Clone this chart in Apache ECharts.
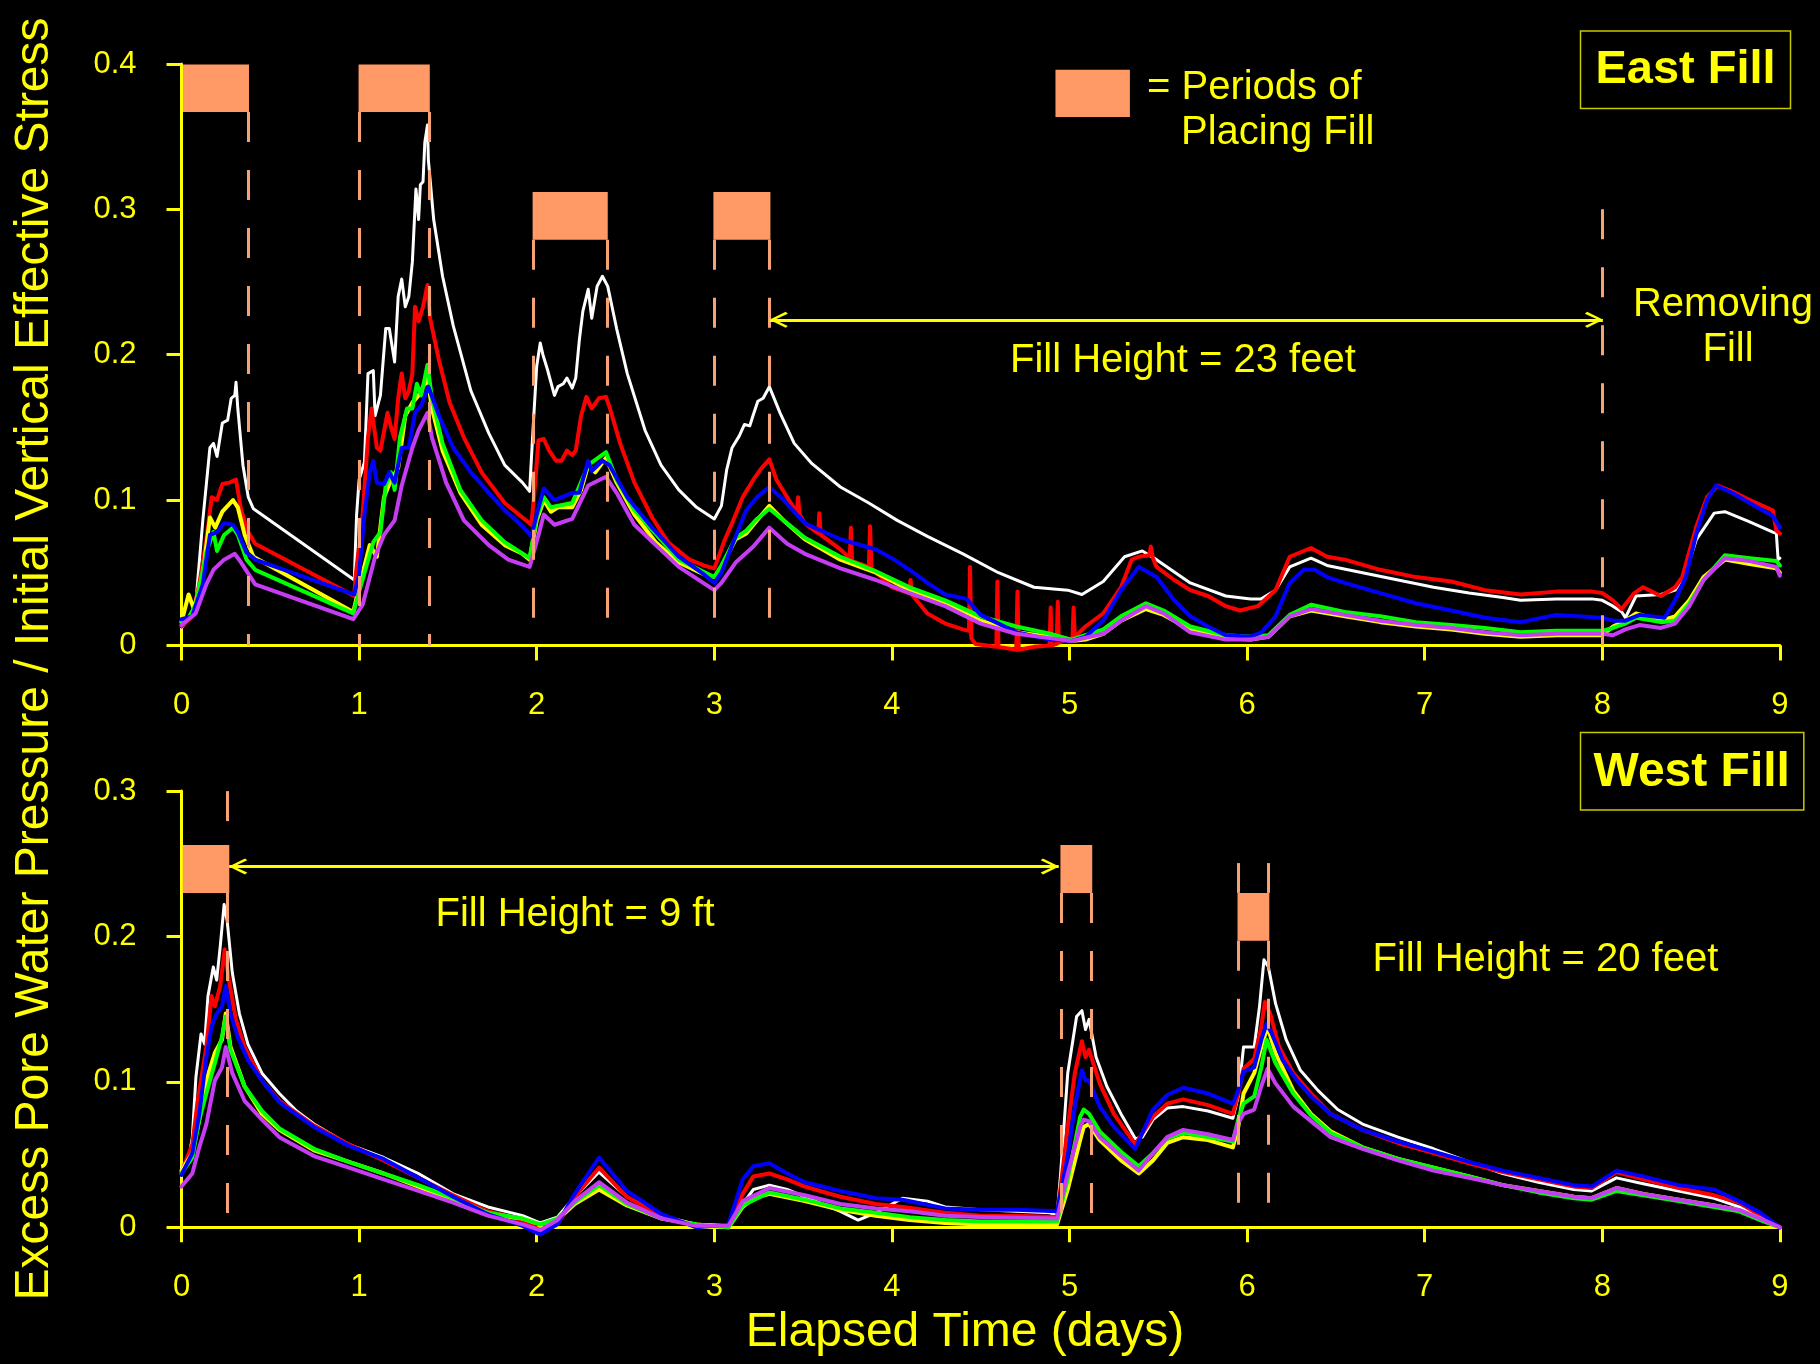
<!DOCTYPE html>
<html>
<head>
<meta charset="utf-8">
<script src="https://cdn.jsdelivr.net/npm/echarts@6.0.0/dist/echarts.min.js"></script>
<style>
html,body{margin:0;padding:0;background:#000;}
#chart{width:1820px;height:1364px;}
</style>
</head>
<body>
<div id="chart"></div>
<script>
// ---------------- DATA ----------------
const xTicks = [0,1,2,3,4,5,6,7,8,9];
const eastYTicks = [0,0.1,0.2,0.3,0.4];
const westYTicks = [0,0.1,0.2,0.3];
const seriesNames = ['white','red','yellow','green','blue','purple'];

// East Fill (top panel): [elapsed day, ratio]
const eastWhite = [[0,0.012],[0.05,0.02],[0.08,0.028],[0.12,0.086],[0.16,0.136],[0.18,0.139],[0.2,0.13],[0.23,0.153],[0.26,0.155],[0.28,0.17],[0.3,0.172],[0.307,0.181],[0.317,0.163],[0.346,0.124],[0.376,0.102],[0.405,0.094],[0.973,0.045],[0.986,0.09],[1.0,0.114],[1.03,0.126],[1.05,0.187],[1.08,0.189],[1.09,0.158],[1.12,0.172],[1.15,0.218],[1.17,0.218],[1.2,0.195],[1.22,0.24],[1.24,0.252],[1.26,0.233],[1.28,0.24],[1.3,0.264],[1.32,0.314],[1.335,0.293],[1.345,0.317],[1.36,0.319],[1.37,0.346],[1.385,0.358],[1.39,0.334],[1.42,0.293],[1.47,0.254],[1.53,0.22],[1.63,0.175],[1.73,0.146],[1.82,0.124],[1.92,0.112],[1.96,0.106],[1.98,0.15],[2.0,0.192],[2.02,0.208],[2.035,0.2],[2.06,0.19],[2.1,0.172],[2.12,0.178],[2.15,0.18],[2.17,0.184],[2.2,0.177],[2.22,0.184],[2.24,0.21],[2.26,0.23],[2.29,0.245],[2.31,0.225],[2.34,0.247],[2.37,0.254],[2.4,0.247],[2.45,0.218],[2.51,0.187],[2.61,0.148],[2.7,0.124],[2.8,0.107],[2.9,0.095],[3.0,0.087],[3.04,0.096],[3.07,0.121],[3.1,0.136],[3.14,0.144],[3.17,0.152],[3.2,0.151],[3.215,0.157],[3.245,0.168],[3.275,0.17],[3.31,0.178],[3.37,0.16],[3.45,0.139],[3.55,0.125],[3.71,0.109],[3.87,0.098],[4.03,0.086],[4.2,0.075],[4.4,0.063],[4.6,0.05],[4.8,0.04],[4.99,0.038],[5.07,0.035],[5.19,0.044],[5.31,0.061],[5.41,0.065],[5.49,0.059],[5.68,0.043],[5.88,0.034],[6.02,0.032],[6.08,0.032],[6.16,0.038],[6.24,0.054],[6.36,0.06],[6.45,0.055],[6.65,0.05],[6.85,0.045],[7.05,0.04],[7.25,0.036],[7.44,0.033],[7.54,0.031],[7.74,0.032],[7.94,0.032],[8.0,0.031],[8.06,0.027],[8.11,0.023],[8.13,0.019],[8.19,0.034],[8.33,0.035],[8.41,0.038],[8.47,0.05],[8.53,0.073],[8.63,0.091],[8.69,0.092],[8.83,0.085],[8.96,0.078],[8.98,0.077],[8.99,0.059],[9.0,0.06]];
const eastRed = [[0,0.013],[0.06,0.02],[0.1,0.042],[0.14,0.073],[0.17,0.102],[0.2,0.1],[0.23,0.111],[0.27,0.112],[0.307,0.114],[0.336,0.093],[0.376,0.078],[0.415,0.07],[0.973,0.034],[0.98,0.047],[1.02,0.09],[1.05,0.143],[1.07,0.163],[1.1,0.136],[1.12,0.134],[1.16,0.16],[1.18,0.15],[1.2,0.142],[1.22,0.17],[1.24,0.187],[1.26,0.17],[1.28,0.175],[1.3,0.187],[1.315,0.233],[1.335,0.223],[1.36,0.233],[1.385,0.248],[1.4,0.225],[1.45,0.196],[1.51,0.167],[1.59,0.143],[1.69,0.119],[1.82,0.098],[1.92,0.088],[1.97,0.083],[1.99,0.11],[2.01,0.141],[2.04,0.142],[2.07,0.134],[2.11,0.127],[2.14,0.127],[2.17,0.134],[2.2,0.131],[2.22,0.134],[2.25,0.158],[2.28,0.171],[2.31,0.163],[2.35,0.17],[2.39,0.171],[2.41,0.164],[2.47,0.139],[2.55,0.112],[2.65,0.088],[2.74,0.071],[2.86,0.059],[2.94,0.055],[3.0,0.053],[3.03,0.063],[3.06,0.073],[3.1,0.084],[3.16,0.102],[3.22,0.114],[3.26,0.121],[3.31,0.128],[3.35,0.114],[3.43,0.098],[3.465,0.092],[3.472,0.102],[3.48,0.09],[3.51,0.084],[3.585,0.077],[3.591,0.091],[3.6,0.076],[3.71,0.066],[3.763,0.06],[3.769,0.081],[3.776,0.058],[3.87,0.054],[3.877,0.082],[3.885,0.053],[4.0,0.04],[4.098,0.036],[4.105,0.045],[4.112,0.035],[4.2,0.022],[4.3,0.015],[4.4,0.011],[4.434,0.01],[4.44,0.054],[4.447,0.005],[4.47,0.001],[4.588,-0.001],[4.594,0.044],[4.6,-0.001],[4.7,-0.003],[4.707,0.037],[4.714,-0.003],[4.8,-0.001],[4.888,0.0],[4.894,0.026],[4.9,0.0],[4.928,0.001],[4.934,0.03],[4.94,0.002],[4.99,0.004],[5.017,0.005],[5.023,0.026],[5.03,0.006],[5.09,0.013],[5.19,0.022],[5.29,0.04],[5.35,0.059],[5.39,0.061],[5.45,0.062],[5.458,0.068],[5.47,0.06],[5.49,0.054],[5.59,0.045],[5.68,0.038],[5.78,0.034],[5.88,0.027],[5.96,0.024],[6.06,0.027],[6.16,0.038],[6.24,0.061],[6.36,0.067],[6.45,0.061],[6.55,0.059],[6.75,0.052],[6.95,0.047],[7.15,0.044],[7.34,0.038],[7.54,0.035],[7.74,0.037],[7.94,0.037],[8.0,0.036],[8.06,0.031],[8.11,0.025],[8.18,0.036],[8.23,0.04],[8.33,0.034],[8.41,0.04],[8.45,0.047],[8.53,0.082],[8.59,0.102],[8.65,0.11],[8.73,0.106],[8.83,0.1],[8.96,0.093],[8.98,0.079],[9.0,0.077]];
const eastYellow = [[0,0.016],[0.04,0.035],[0.07,0.025],[0.12,0.049],[0.16,0.088],[0.19,0.081],[0.23,0.092],[0.29,0.1],[0.317,0.095],[0.356,0.076],[0.405,0.061],[0.967,0.023],[1.0,0.04],[1.06,0.069],[1.1,0.061],[1.14,0.102],[1.18,0.114],[1.22,0.122],[1.26,0.158],[1.3,0.167],[1.335,0.172],[1.385,0.184],[1.41,0.163],[1.47,0.134],[1.57,0.105],[1.69,0.083],[1.82,0.069],[1.92,0.063],[1.96,0.059],[2.0,0.086],[2.04,0.1],[2.08,0.092],[2.12,0.095],[2.2,0.095],[2.25,0.107],[2.29,0.124],[2.33,0.119],[2.39,0.129],[2.45,0.112],[2.55,0.09],[2.67,0.071],[2.8,0.057],[2.94,0.049],[3.0,0.047],[3.04,0.054],[3.12,0.073],[3.18,0.077],[3.24,0.086],[3.31,0.096],[3.39,0.086],[3.51,0.073],[3.71,0.059],[3.91,0.05],[4.1,0.038],[4.3,0.029],[4.5,0.017],[4.7,0.009],[4.89,0.006],[5.01,0.003],[5.09,0.004],[5.19,0.008],[5.29,0.017],[5.43,0.025],[5.53,0.021],[5.68,0.011],[5.88,0.005],[6.02,0.004],[6.12,0.006],[6.24,0.02],[6.36,0.024],[6.55,0.02],[6.75,0.016],[6.95,0.013],[7.15,0.011],[7.34,0.008],[7.54,0.006],[7.74,0.007],[8.0,0.007],[8.06,0.013],[8.13,0.017],[8.19,0.022],[8.33,0.017],[8.41,0.02],[8.49,0.031],[8.57,0.047],[8.69,0.059],[8.83,0.056],[8.98,0.053],[9.0,0.05]];
const eastGreen = [[0,0.016],[0.04,0.019],[0.08,0.028],[0.14,0.064],[0.18,0.078],[0.2,0.065],[0.24,0.076],[0.29,0.081],[0.317,0.076],[0.366,0.059],[0.415,0.052],[0.967,0.022],[1.0,0.037],[1.08,0.071],[1.12,0.078],[1.15,0.11],[1.18,0.119],[1.2,0.107],[1.23,0.143],[1.27,0.163],[1.3,0.163],[1.325,0.18],[1.35,0.172],[1.385,0.193],[1.41,0.17],[1.47,0.139],[1.57,0.107],[1.69,0.086],[1.82,0.071],[1.96,0.06],[2.0,0.088],[2.04,0.102],[2.08,0.095],[2.2,0.098],[2.29,0.124],[2.39,0.133],[2.45,0.114],[2.55,0.093],[2.8,0.059],[3.0,0.047],[3.04,0.055],[3.12,0.074],[3.18,0.079],[3.24,0.087],[3.31,0.094],[3.39,0.086],[3.51,0.074],[3.71,0.061],[3.91,0.051],[4.1,0.04],[4.3,0.031],[4.5,0.02],[4.7,0.013],[4.89,0.008],[5.01,0.004],[5.19,0.011],[5.29,0.02],[5.43,0.029],[5.53,0.024],[5.68,0.013],[5.88,0.007],[6.02,0.006],[6.12,0.007],[6.24,0.021],[6.36,0.028],[6.55,0.023],[6.75,0.02],[6.95,0.016],[7.15,0.014],[7.34,0.012],[7.54,0.009],[7.74,0.01],[8.0,0.01],[8.06,0.012],[8.13,0.015],[8.19,0.019],[8.33,0.016],[8.41,0.017],[8.49,0.029],[8.57,0.045],[8.69,0.062],[8.83,0.06],[8.98,0.058],[9.0,0.055]];
const eastBlue = [[0,0.018],[0.06,0.02],[0.12,0.042],[0.16,0.076],[0.2,0.078],[0.24,0.084],[0.29,0.083],[0.317,0.078],[0.366,0.064],[0.415,0.059],[0.973,0.035],[1.0,0.049],[1.03,0.09],[1.06,0.119],[1.08,0.127],[1.1,0.112],[1.14,0.111],[1.17,0.119],[1.2,0.112],[1.24,0.136],[1.28,0.136],[1.315,0.16],[1.35,0.165],[1.39,0.178],[1.45,0.158],[1.53,0.136],[1.63,0.119],[1.73,0.105],[1.82,0.093],[1.92,0.082],[1.97,0.075],[2.0,0.09],[2.04,0.108],[2.1,0.1],[2.2,0.105],[2.24,0.105],[2.29,0.127],[2.31,0.12],[2.37,0.127],[2.41,0.124],[2.51,0.102],[2.65,0.081],[2.8,0.061],[2.94,0.049],[3.0,0.043],[3.04,0.05],[3.12,0.075],[3.18,0.093],[3.24,0.102],[3.31,0.109],[3.39,0.1],[3.51,0.084],[3.71,0.073],[3.91,0.066],[4.0,0.06],[4.1,0.052],[4.2,0.043],[4.3,0.035],[4.42,0.032],[4.5,0.021],[4.7,0.009],[4.89,0.004],[5.01,0.003],[5.09,0.006],[5.19,0.017],[5.29,0.038],[5.39,0.054],[5.49,0.047],[5.59,0.031],[5.68,0.02],[5.78,0.013],[5.88,0.007],[6.02,0.006],[6.08,0.009],[6.16,0.02],[6.24,0.043],[6.32,0.052],[6.38,0.052],[6.45,0.047],[6.55,0.043],[6.75,0.036],[6.95,0.029],[7.15,0.024],[7.34,0.019],[7.54,0.016],[7.74,0.021],[8.0,0.019],[8.06,0.017],[8.13,0.017],[8.21,0.021],[8.35,0.019],[8.41,0.031],[8.47,0.047],[8.53,0.077],[8.59,0.1],[8.64,0.11],[8.73,0.105],[8.83,0.098],[8.96,0.089],[9.0,0.081]];
const eastPurple = [[0,0.014],[0.08,0.022],[0.14,0.042],[0.18,0.052],[0.24,0.059],[0.3,0.063],[0.336,0.057],[0.415,0.042],[0.967,0.018],[1.02,0.028],[1.09,0.061],[1.14,0.076],[1.2,0.086],[1.24,0.11],[1.3,0.136],[1.335,0.148],[1.385,0.16],[1.41,0.143],[1.49,0.112],[1.59,0.086],[1.73,0.069],[1.84,0.059],[1.96,0.054],[2.01,0.076],[2.04,0.09],[2.1,0.083],[2.2,0.087],[2.29,0.11],[2.39,0.116],[2.45,0.105],[2.55,0.083],[2.8,0.054],[3.0,0.038],[3.04,0.043],[3.12,0.057],[3.22,0.068],[3.31,0.081],[3.41,0.07],[3.51,0.063],[3.71,0.053],[3.91,0.045],[4.1,0.036],[4.3,0.027],[4.5,0.015],[4.7,0.008],[4.89,0.005],[5.01,0.003],[5.19,0.008],[5.29,0.017],[5.43,0.027],[5.53,0.022],[5.68,0.009],[5.88,0.004],[6.02,0.004],[6.12,0.006],[6.24,0.02],[6.36,0.025],[6.55,0.021],[6.75,0.017],[6.95,0.014],[7.15,0.012],[7.34,0.009],[7.54,0.007],[7.74,0.008],[8.0,0.008],[8.06,0.007],[8.13,0.011],[8.21,0.014],[8.33,0.012],[8.41,0.015],[8.49,0.027],[8.57,0.045],[8.69,0.06],[8.83,0.058],[8.98,0.054],[9.0,0.048]];

// West Fill (bottom panel): [elapsed day, ratio]
const westWhite = [[0,0.041],[0.042,0.048],[0.061,0.062],[0.081,0.103],[0.11,0.133],[0.13,0.126],[0.149,0.159],[0.179,0.179],[0.198,0.17],[0.218,0.193],[0.24,0.222],[0.257,0.211],[0.286,0.175],[0.326,0.147],[0.374,0.126],[0.453,0.106],[0.551,0.092],[0.648,0.08],[0.746,0.071],[0.942,0.057],[1.138,0.048],[1.334,0.037],[1.53,0.023],[1.725,0.014],[1.921,0.008],[2.019,0.003],[2.116,0.007],[2.214,0.021],[2.351,0.038],[2.508,0.021],[2.704,0.008],[2.899,0.002],[3.08,0.002],[3.16,0.016],[3.22,0.026],[3.31,0.029],[3.41,0.026],[3.51,0.021],[3.61,0.016],[3.71,0.011],[3.81,0.005],[3.91,0.01],[4.06,0.02],[4.2,0.018],[4.3,0.014],[4.5,0.012],[4.7,0.011],[4.89,0.01],[4.93,0.008],[4.95,0.037],[4.99,0.106],[5.04,0.145],[5.07,0.149],[5.09,0.136],[5.11,0.143],[5.15,0.117],[5.21,0.097],[5.29,0.078],[5.37,0.061],[5.41,0.062],[5.47,0.074],[5.55,0.082],[5.64,0.083],[5.78,0.08],[5.92,0.075],[5.95,0.09],[5.98,0.124],[6.04,0.124],[6.07,0.152],[6.095,0.184],[6.12,0.179],[6.16,0.154],[6.22,0.129],[6.3,0.108],[6.4,0.094],[6.51,0.081],[6.65,0.071],[6.85,0.062],[7.05,0.054],[7.25,0.045],[7.44,0.037],[7.64,0.031],[7.84,0.026],[7.94,0.025],[8.08,0.034],[8.23,0.03],[8.43,0.025],[8.63,0.02],[8.77,0.014],[8.89,0.007],[9.0,0.0]];
const westRed = [[0,0.038],[0.061,0.057],[0.091,0.087],[0.14,0.124],[0.169,0.159],[0.188,0.152],[0.218,0.166],[0.243,0.191],[0.267,0.17],[0.306,0.143],[0.355,0.124],[0.453,0.101],[0.551,0.087],[0.746,0.07],[0.942,0.057],[1.138,0.046],[1.334,0.034],[1.53,0.022],[1.725,0.011],[1.921,0.005],[2.019,-0.002],[2.116,0.002],[2.214,0.021],[2.351,0.041],[2.508,0.021],[2.704,0.007],[2.899,0.001],[3.08,0.001],[3.16,0.023],[3.22,0.035],[3.31,0.037],[3.41,0.033],[3.51,0.028],[3.71,0.021],[3.91,0.016],[4.06,0.014],[4.3,0.01],[4.5,0.008],[4.7,0.008],[4.93,0.007],[4.99,0.069],[5.03,0.106],[5.07,0.128],[5.09,0.117],[5.11,0.122],[5.17,0.099],[5.25,0.078],[5.37,0.057],[5.47,0.076],[5.55,0.085],[5.64,0.088],[5.78,0.084],[5.92,0.078],[5.95,0.092],[5.98,0.109],[6.04,0.116],[6.08,0.138],[6.1,0.155],[6.13,0.147],[6.18,0.124],[6.26,0.106],[6.36,0.092],[6.47,0.078],[6.65,0.067],[6.85,0.058],[7.05,0.051],[7.25,0.044],[7.44,0.038],[7.64,0.033],[7.84,0.028],[7.94,0.027],[8.08,0.038],[8.23,0.033],[8.43,0.027],[8.63,0.022],[8.77,0.017],[8.89,0.008],[9.0,0.0]];
const westYellow = [[0,0.039],[0.061,0.051],[0.1,0.074],[0.14,0.101],[0.188,0.12],[0.228,0.129],[0.249,0.147],[0.276,0.124],[0.355,0.097],[0.453,0.078],[0.551,0.067],[0.746,0.053],[0.942,0.045],[1.138,0.037],[1.334,0.028],[1.53,0.018],[1.725,0.009],[1.921,0.006],[2.019,0.002],[2.116,0.005],[2.214,0.016],[2.351,0.026],[2.508,0.015],[2.704,0.006],[2.899,0.002],[3.08,0.0],[3.16,0.014],[3.22,0.02],[3.31,0.023],[3.51,0.018],[3.71,0.012],[3.91,0.008],[4.1,0.005],[4.3,0.003],[4.5,0.002],[4.93,0.002],[4.99,0.026],[5.06,0.06],[5.08,0.069],[5.11,0.071],[5.17,0.06],[5.29,0.046],[5.39,0.037],[5.47,0.046],[5.55,0.058],[5.64,0.062],[5.78,0.06],[5.92,0.055],[5.95,0.069],[5.98,0.092],[6.04,0.106],[6.08,0.124],[6.115,0.138],[6.16,0.12],[6.26,0.094],[6.36,0.078],[6.47,0.066],[6.65,0.055],[6.85,0.047],[7.05,0.041],[7.25,0.035],[7.44,0.029],[7.64,0.025],[7.84,0.021],[7.94,0.02],[8.08,0.027],[8.23,0.023],[8.43,0.019],[8.63,0.015],[8.77,0.012],[8.89,0.006],[9.0,0.0]];
const westGreen = [[0,0.037],[0.061,0.048],[0.1,0.074],[0.14,0.092],[0.188,0.113],[0.228,0.131],[0.249,0.145],[0.276,0.122],[0.355,0.097],[0.453,0.08],[0.551,0.068],[0.746,0.054],[0.942,0.045],[1.138,0.037],[1.334,0.029],[1.53,0.02],[1.725,0.01],[1.921,0.006],[2.019,0.002],[2.116,0.006],[2.214,0.017],[2.351,0.029],[2.508,0.016],[2.704,0.006],[2.899,0.002],[3.08,0.0],[3.16,0.015],[3.31,0.024],[3.51,0.019],[3.71,0.013],[3.91,0.01],[4.1,0.007],[4.3,0.005],[4.5,0.004],[4.93,0.004],[4.99,0.033],[5.06,0.076],[5.08,0.081],[5.11,0.078],[5.17,0.066],[5.29,0.052],[5.39,0.042],[5.47,0.051],[5.55,0.061],[5.64,0.065],[5.78,0.062],[5.92,0.059],[5.95,0.074],[5.98,0.085],[6.04,0.09],[6.08,0.11],[6.11,0.129],[6.16,0.113],[6.26,0.092],[6.36,0.077],[6.47,0.065],[6.65,0.055],[6.85,0.047],[7.05,0.041],[7.25,0.035],[7.44,0.029],[7.64,0.024],[7.84,0.02],[7.94,0.019],[8.08,0.025],[8.23,0.022],[8.43,0.018],[8.63,0.014],[8.77,0.011],[8.89,0.005],[9.0,0.0]];
const westBlue = [[0,0.036],[0.061,0.051],[0.1,0.078],[0.14,0.117],[0.169,0.138],[0.198,0.147],[0.228,0.152],[0.249,0.166],[0.276,0.147],[0.316,0.131],[0.374,0.115],[0.453,0.101],[0.551,0.086],[0.746,0.069],[0.942,0.056],[1.138,0.047],[1.334,0.034],[1.53,0.021],[1.725,0.009],[1.921,0.001],[2.019,-0.005],[2.116,0.002],[2.214,0.023],[2.351,0.048],[2.508,0.025],[2.704,0.009],[2.899,0.0],[3.08,0.002],[3.16,0.033],[3.22,0.042],[3.31,0.044],[3.41,0.037],[3.51,0.031],[3.71,0.025],[3.91,0.02],[4.06,0.019],[4.3,0.013],[4.5,0.012],[4.7,0.012],[4.93,0.011],[4.99,0.049],[5.03,0.083],[5.07,0.108],[5.09,0.101],[5.11,0.101],[5.17,0.083],[5.25,0.069],[5.37,0.054],[5.47,0.081],[5.55,0.091],[5.64,0.096],[5.78,0.092],[5.92,0.085],[5.95,0.094],[5.98,0.107],[6.04,0.11],[6.08,0.129],[6.11,0.14],[6.14,0.133],[6.2,0.115],[6.28,0.101],[6.36,0.09],[6.47,0.078],[6.65,0.067],[6.85,0.059],[7.05,0.052],[7.25,0.045],[7.44,0.039],[7.64,0.034],[7.84,0.029],[7.94,0.028],[8.08,0.039],[8.23,0.035],[8.43,0.029],[8.63,0.026],[8.77,0.018],[8.89,0.01],[9.0,0.0]];
const westPurple = [[0,0.028],[0.061,0.037],[0.1,0.055],[0.14,0.071],[0.188,0.101],[0.228,0.11],[0.249,0.124],[0.286,0.106],[0.355,0.087],[0.453,0.074],[0.551,0.062],[0.746,0.049],[0.942,0.041],[1.138,0.033],[1.334,0.025],[1.53,0.017],[1.725,0.008],[1.921,0.002],[2.019,-0.002],[2.116,0.005],[2.214,0.018],[2.351,0.031],[2.508,0.017],[2.704,0.006],[2.899,0.001],[3.08,0.001],[3.16,0.018],[3.31,0.027],[3.51,0.022],[3.71,0.016],[3.91,0.013],[4.1,0.011],[4.3,0.008],[4.5,0.007],[4.93,0.006],[4.99,0.037],[5.06,0.069],[5.08,0.074],[5.11,0.073],[5.17,0.062],[5.29,0.049],[5.39,0.039],[5.47,0.051],[5.55,0.062],[5.64,0.067],[5.78,0.064],[5.92,0.06],[5.95,0.072],[5.98,0.078],[6.04,0.081],[6.08,0.097],[6.115,0.109],[6.16,0.099],[6.26,0.083],[6.36,0.073],[6.47,0.062],[6.65,0.054],[6.85,0.046],[7.05,0.039],[7.25,0.034],[7.44,0.029],[7.64,0.025],[7.84,0.021],[7.94,0.02],[8.08,0.027],[8.23,0.023],[8.43,0.019],[8.63,0.015],[8.77,0.012],[8.89,0.006],[9.0,0.0]];

// Fill placement periods: [startDay, endDay, lowRatio, highRatio]
const eastFillPeriods = [[0.008,0.38,0.367,0.3996],[0.997,1.398,0.367,0.3996],[1.977,2.40,0.279,0.312],[2.995,3.316,0.279,0.312]];
const eastLegendKey = [[4.921,5.340,0.3635,0.3961]];
const westFillPeriods = [[0.007,0.269,0.230,0.263],[4.949,5.128,0.230,0.263],[5.946,6.125,0.197,0.230]];
// Dashed period boundaries: [day, fromRatio, toRatio]
const eastBoundaries = [[0.375,0.367,0],[1.0,0.367,0],[1.395,0.367,0],[1.98,0.279,0],[2.40,0.279,0],[3.0,0.279,0],[3.31,0.279,0],[8.0,0.30,0]];
const westBoundaries = [[0.26,0.3,0.263],[0.26,0.23,0],[4.954,0.23,0],[5.12,0.23,0],[5.95,0.2505,0.23],[5.95,0.197,0],[6.118,0.2505,0.23],[6.118,0.197,0]];
// Fill height arrows: [fromDay, toDay, ratio]
const eastArrows = [[3.313,8.003,0.224]];
const westArrows = [[0.269,4.939,0.2482],[6.125,9.006,0.2155]];

// ---------------- STYLE ----------------
const FONT = '"Liberation Sans", Arial, Helvetica, sans-serif';
const YEL = '#FFFF00';
const colors = {white:'#FFFFFF', red:'#FF0000', yellow:'#FFFF00', green:'#00FF00', blue:'#0000FF', purple:'#C63CF2'};
const FILL = '#FF9966';
const DASH = '#F7A274';
const chevron = 'path://M10,0 M10,14 L20,27 L17.6,28.8 L10,18.2 L2.4,28.8 L0,27 Z';

const chart = echarts.init(document.getElementById('chart'), null, {renderer:'canvas'});

function lineSeries(data, name, idx) {
  return {
    type:'line', name:name, xAxisIndex:idx, yAxisIndex:idx, data:data,
    symbol:'none', showSymbol:false, clip:false, animation:false, silent:true,
    lineStyle:{color:colors[name], width: name === 'white' ? 3 : 4, join:'round', cap:'round'},
    z: 2
  };
}
function annotSeries(idx, periods, boundaries, extraAreas) {
  const areas = periods.concat(extraAreas || []).map(p => [
    {xAxis:p[0], yAxis:p[3]}, {xAxis:p[1], yAxis:p[2]}
  ]);
  return {
    type:'line', xAxisIndex:idx, yAxisIndex:idx, data:[], silent:true, animation:false, z:3,
    markArea:{silent:true, animation:false, itemStyle:{color:FILL, borderWidth:0}, label:{show:false}, data:areas},
    markLine:{silent:true, animation:false, symbol:['none','none'], label:{show:false},
      lineStyle:{color:DASH, width:3, type:[30,28]},
      data: boundaries.map(b => [{coord:[b[0], b[1]]}, {coord:[b[0], b[2]]}])}
  };
}
function arrowSeries(idx, arrows) {
  return {
    type:'line', xAxisIndex:idx, yAxisIndex:idx, data:[], silent:true, animation:false, z:4,
    markLine:{silent:true, animation:false, symbol:[chevron, chevron], symbolSize:[16,36], label:{show:false},
      lineStyle:{color:YEL, width:3, type:'solid'},
      data: arrows.map(a => [{coord:[a[0], a[2]]}, {coord:[a[1], a[2]]}])}
  };
}
function xAxisCfg(idx) {
  return {
    gridIndex:idx, type:'value', min:xTicks[0], max:xTicks[xTicks.length-1], interval:1,
    axisLine:{show:true, onZero:false, lineStyle:{color:YEL, width:3}},
    axisTick:{show:true, length:15, lineStyle:{color:YEL, width:3}},
    axisLabel:{color:YEL, fontSize:31, fontFamily:FONT, margin:45},
    splitLine:{show:false}
  };
}
function yAxisCfg(idx, ticks) {
  return {
    gridIndex:idx, type:'value', min:ticks[0], max:ticks[ticks.length-1], interval:0.1,
    axisLine:{show:true, onZero:false, lineStyle:{color:YEL, width:3}},
    axisTick:{show:true, length:15, lineStyle:{color:YEL, width:3}},
    axisLabel:{color:YEL, fontSize:31, fontFamily:FONT, margin:45},
    splitLine:{show:false}
  };
}
function txt(text, x, y, size, align, opts) {
  opts = opts || {};
  return {
    type:'text', x:x, y:y, rotation:opts.rotation || 0, silent:true, z:10,
    style:{text:text, fill:YEL, font:(opts.bold ? 'bold ' : '') + size + 'px ' + FONT,
      align:align, textAlign:align, verticalAlign:'middle', textVerticalAlign:'middle'}
  };
}

const eastSets = [eastWhite, eastRed, eastYellow, eastGreen, eastBlue, eastPurple];
const westSets = [westWhite, westRed, westYellow, westGreen, westBlue, westPurple];

const series = [];
eastSets.forEach((d, i) => series.push(lineSeries(d, seriesNames[i], 0)));
westSets.forEach((d, i) => series.push(lineSeries(d, seriesNames[i], 1)));
series.push(annotSeries(0, eastFillPeriods, eastBoundaries, eastLegendKey));
series.push(annotSeries(1, westFillPeriods, westBoundaries));
series.push(arrowSeries(0, eastArrows));
series.push(arrowSeries(1, westArrows));

const option = {
  backgroundColor:'#000000',
  animation:false,
  textStyle:{fontFamily:FONT},
  grid:[
    {left:181.5, top:64, width:1598.4, height:581.4, containLabel:false, outerBoundsMode:'none'},
    {left:181.5, top:791.1, width:1598.4, height:436.2, containLabel:false, outerBoundsMode:'none'}
  ],
  xAxis:[xAxisCfg(0), xAxisCfg(1)],
  yAxis:[yAxisCfg(0, eastYTicks), yAxisCfg(1, westYTicks)],
  series:series,
  graphic:[
    txt('Excess Pore Water Pressure / Initial Vertical Effective Stress', 35, 659, 48, 'center', {rotation:Math.PI/2}),
    txt('Elapsed Time (days)', 965, 1333, 48, 'center'),
    txt('= Periods of', 1147, 88, 40, 'left'),
    txt('Placing Fill', 1181, 132.5, 40, 'left'),
    txt('Fill Height = 23 feet', 1010, 361, 40, 'left'),
    txt('Removing', 1723, 305, 40, 'center'),
    txt('Fill', 1728, 350, 40, 'center'),
    txt('Fill Height = 9 ft', 435.5, 914.5, 40, 'left'),
    txt('Fill Height = 20 feet', 1372.5, 959.5, 40, 'left'),
    {type:'rect', silent:true, z:9, shape:{x:1580.5, y:31, width:210, height:77.5}, style:{fill:'none', stroke:'#C8C800', lineWidth:1.5}},
    txt('East Fill', 1685.5, 70.5, 47, 'center', {bold:true}),
    {type:'rect', silent:true, z:9, shape:{x:1580.5, y:732.6, width:223.3, height:77.5}, style:{fill:'none', stroke:'#C8C800', lineWidth:1.5}},
    txt('West Fill', 1691.7, 772.4, 48, 'center', {bold:true})
  ]
};
chart.setOption(option);
</script>
</body>
</html>
